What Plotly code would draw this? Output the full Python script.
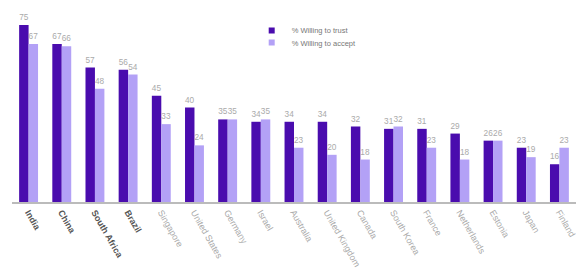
import plotly.graph_objects as go

countries = ["India", "China", "South Africa", "Brazil", "Singapore", "United States",
             "Germany", "Israel", "Australia", "United Kingdom", "Canada", "South Korea",
             "France", "Netherlands", "Estonia", "Japan", "Finland"]
trust = [75, 67, 57, 56, 45, 40, 35, 34, 34, 34, 32, 31, 31, 29, 26, 23, 16]
accept = [67, 66, 48, 54, 33, 24, 35, 35, 23, 20, 18, 32, 23, 18, 26, 19, 23]
highlighted = ["India", "China", "South Africa", "Brazil"]
series_names = ["% Willing to trust", "% Willing to accept"]
colors = ["#4a0cae", "#b3a1f6"]
legend_ids = ["legend", "legend2"]

ticktext = [f"<b><span style='color:#555555'>{c}</span></b>" if c in highlighted
            else f"<span style='color:#aaaaaa'>{c}</span>" for c in countries]

fig = go.Figure()
for vals, name, col in zip([trust, accept], series_names, colors):
    fig.add_trace(go.Bar(x=countries, y=vals, name=name, showlegend=False,
                         marker=dict(color=col, line=dict(width=0)),
                         text=vals, textposition="outside",
                         textfont=dict(color="#aaaaaa", size=8.5), cliponaxis=False))
for name, col, lid in zip(series_names, colors, legend_ids):
    fig.add_trace(go.Scatter(x=[None], y=[None], mode="markers", name=name,
                             legend=lid,
                             marker=dict(symbol="square", size=6, color=col)))

legend_style = dict(xanchor="left", yanchor="top",
                    font=dict(size=7.5, color="#777777"), bgcolor="rgba(0,0,0,0)",
                    itemwidth=30)

fig.update_layout(
    width=576, height=268,
    margin=dict(l=12, r=0, t=0, b=66),
    paper_bgcolor="white", plot_bgcolor="white",
    barmode="group", bargap=0.43, bargroupgap=0,
    font=dict(family="Liberation Sans, Arial, sans-serif", size=9, color="#666666"),
    showlegend=True,
    legend=dict(x=0.425, y=0.921, **legend_style),
    legend2=dict(x=0.425, y=0.861, **legend_style),
    xaxis=dict(tickmode="array", tickvals=countries, ticktext=ticktext,
               tickangle=60, showline=True, linecolor="#bbbbbb", linewidth=1.5,
               ticks="", showgrid=False, tickfont=dict(size=9), automargin=False),
    yaxis=dict(range=[0, 85.6], visible=False, showgrid=False, zeroline=False,
               automargin=False),
)

fig.write_html("out.html", config={"displayModeBar": False},
               post_script="document.body.style.margin='0px';document.body.style.overflow='hidden';")
